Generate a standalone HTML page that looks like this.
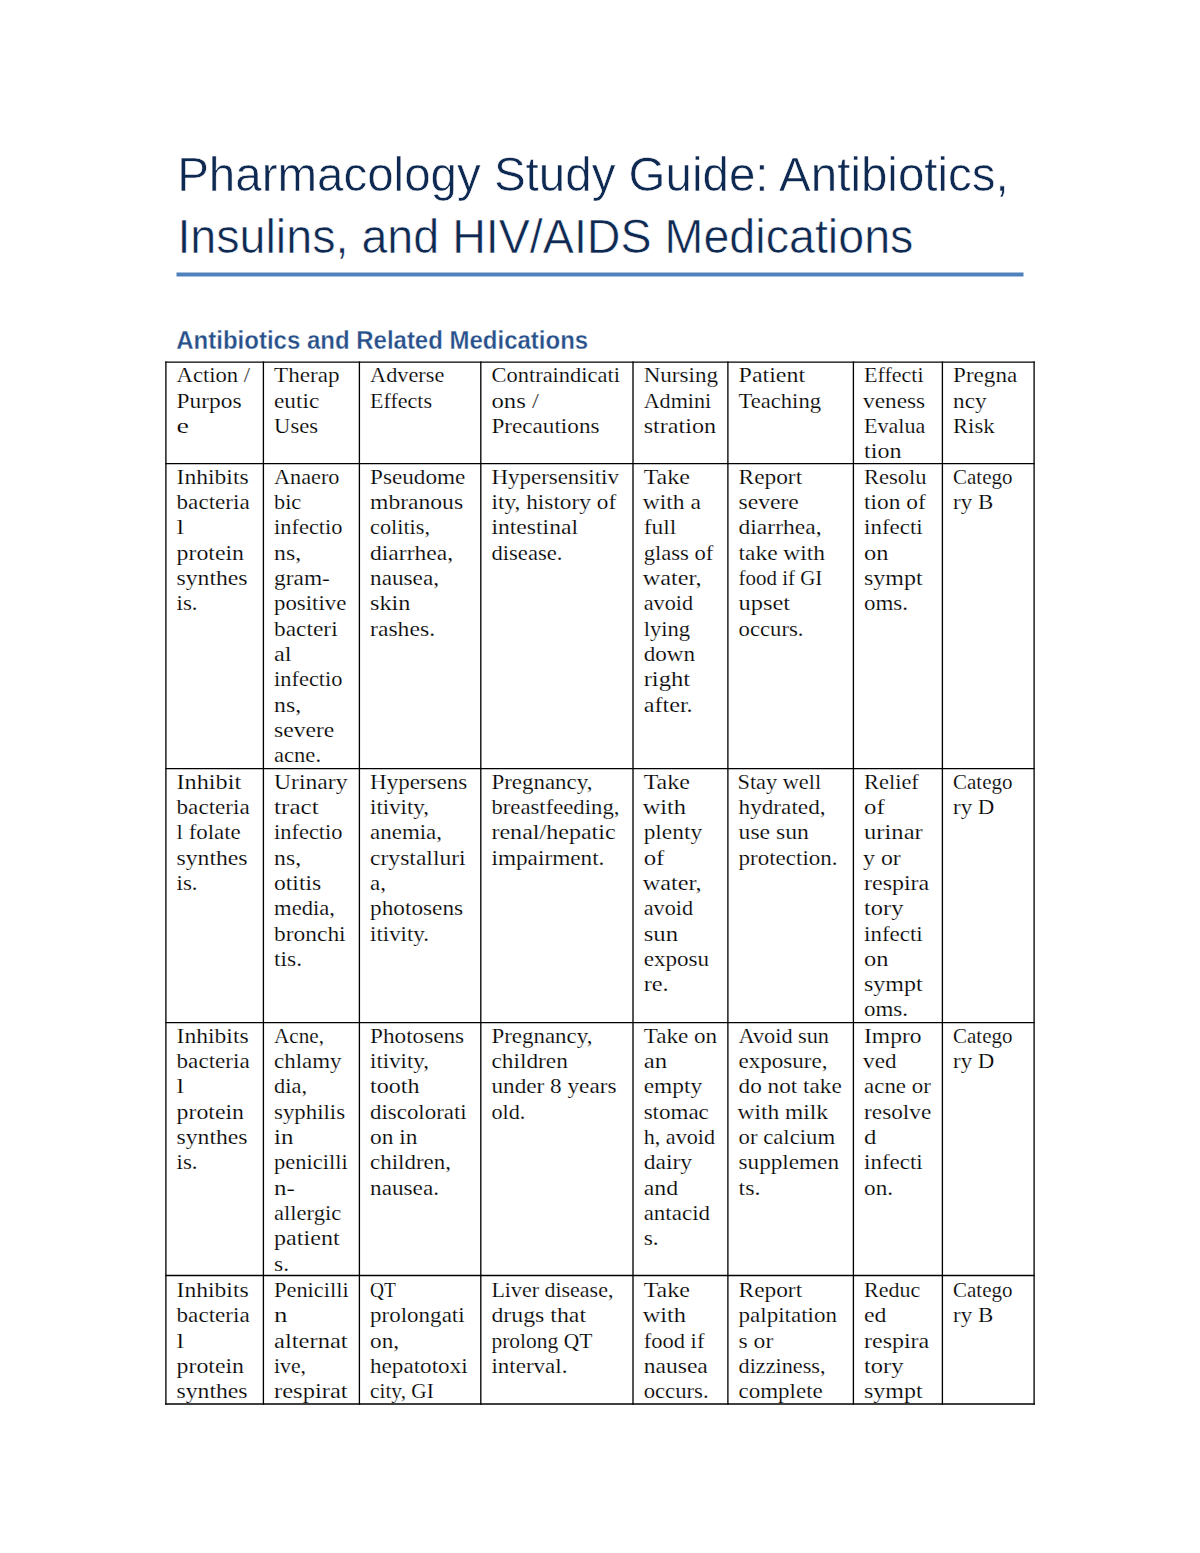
<!DOCTYPE html>
<html><head><meta charset="utf-8"><style>
html,body{margin:0;padding:0;background:#fff;width:1200px;height:1553px;overflow:hidden}
svg{display:block}
</style></head><body>
<svg width="1200" height="1553" viewBox="0 0 1200 1553">
<rect x="0" y="0" width="1200" height="1553" fill="#fff"/>
<g font-family="'Liberation Sans', sans-serif" font-size="49" fill="#0f2a52" stroke="#fff" stroke-width="0.6">
<text x="177.13" y="190.6" textLength="831.66" lengthAdjust="spacingAndGlyphs">Pharmacology Study Guide: Antibiotics,</text>
<text x="177.39" y="252.6" textLength="736.03" lengthAdjust="spacingAndGlyphs">Insulins, and HIV/AIDS Medications</text>
</g>
<rect x="176.5" y="272.5" width="847" height="4" fill="#4F81BD"/>
<g font-family="'Liberation Sans', sans-serif" font-weight="bold" font-size="25" fill="#28508a" stroke="#fff" stroke-width="0.3">
<text x="176.30" y="348.8" textLength="411.87" lengthAdjust="spacingAndGlyphs">Antibiotics and Related Medications</text>
</g>
<g stroke="#000" stroke-width="1.33" fill="none">
<line x1="165.9" y1="361.5" x2="165.9" y2="1404.65"/>
<line x1="263.4" y1="361.5" x2="263.4" y2="1404.65"/>
<line x1="359.4" y1="361.5" x2="359.4" y2="1404.65"/>
<line x1="480.8" y1="361.5" x2="480.8" y2="1404.65"/>
<line x1="633.0" y1="361.5" x2="633.0" y2="1404.65"/>
<line x1="727.9" y1="361.5" x2="727.9" y2="1404.65"/>
<line x1="853.4" y1="361.5" x2="853.4" y2="1404.65"/>
<line x1="942.4" y1="361.5" x2="942.4" y2="1404.65"/>
<line x1="1034.1" y1="361.5" x2="1034.1" y2="1404.65"/>
<line x1="165.25" y1="362.15" x2="1034.75" y2="362.15"/>
<line x1="165.25" y1="463.7" x2="1034.75" y2="463.7"/>
<line x1="165.25" y1="768.6" x2="1034.75" y2="768.6"/>
<line x1="165.25" y1="1022.7" x2="1034.75" y2="1022.7"/>
<line x1="165.25" y1="1275.5" x2="1034.75" y2="1275.5"/>
<line x1="165.25" y1="1404.0" x2="1034.75" y2="1404.0"/>
</g>
<g font-family="'Liberation Serif', serif" font-size="21.9" fill="#000" stroke="#fff" stroke-width="0.2">
<text x="176.55" y="382.25" textLength="73.55" lengthAdjust="spacingAndGlyphs">Action /</text>
<text x="176.55" y="407.56" textLength="65.06" lengthAdjust="spacingAndGlyphs">Purpos</text>
<text x="176.55" y="432.87" textLength="12.42" lengthAdjust="spacingAndGlyphs">e</text>
<text x="274.05" y="382.25" textLength="65.44" lengthAdjust="spacingAndGlyphs">Therap</text>
<text x="274.05" y="407.56" textLength="45.20" lengthAdjust="spacingAndGlyphs">eutic</text>
<text x="274.05" y="432.87" textLength="44.04" lengthAdjust="spacingAndGlyphs">Uses</text>
<text x="370.05" y="382.25" textLength="74.23" lengthAdjust="spacingAndGlyphs">Adverse</text>
<text x="370.05" y="407.56" textLength="62.02" lengthAdjust="spacingAndGlyphs">Effects</text>
<text x="491.45" y="382.25" textLength="128.58" lengthAdjust="spacingAndGlyphs">Contraindicati</text>
<text x="491.45" y="407.56" textLength="47.46" lengthAdjust="spacingAndGlyphs">ons /</text>
<text x="491.45" y="432.87" textLength="108.05" lengthAdjust="spacingAndGlyphs">Precautions</text>
<text x="643.65" y="382.25" textLength="74.44" lengthAdjust="spacingAndGlyphs">Nursing</text>
<text x="643.65" y="407.56" textLength="67.58" lengthAdjust="spacingAndGlyphs">Admini</text>
<text x="643.65" y="432.87" textLength="72.44" lengthAdjust="spacingAndGlyphs">stration</text>
<text x="738.55" y="382.25" textLength="66.59" lengthAdjust="spacingAndGlyphs">Patient</text>
<text x="738.55" y="407.56" textLength="82.44" lengthAdjust="spacingAndGlyphs">Teaching</text>
<text x="864.05" y="382.25" textLength="59.58" lengthAdjust="spacingAndGlyphs">Effecti</text>
<text x="863.05" y="407.56" textLength="62.05" lengthAdjust="spacingAndGlyphs">veness</text>
<text x="864.05" y="432.87" textLength="61.21" lengthAdjust="spacingAndGlyphs">Evalua</text>
<text x="864.05" y="458.18" textLength="37.44" lengthAdjust="spacingAndGlyphs">tion</text>
<text x="953.05" y="382.25" textLength="64.20" lengthAdjust="spacingAndGlyphs">Pregna</text>
<text x="953.05" y="407.56" textLength="33.44" lengthAdjust="spacingAndGlyphs">ncy</text>
<text x="953.05" y="432.87" textLength="41.44" lengthAdjust="spacingAndGlyphs">Risk</text>
<text x="176.55" y="483.80" textLength="72.06" lengthAdjust="spacingAndGlyphs">Inhibits</text>
<text x="176.55" y="509.11" textLength="73.20" lengthAdjust="spacingAndGlyphs">bacteria</text>
<text x="176.55" y="534.42" textLength="7.60" lengthAdjust="spacingAndGlyphs">l</text>
<text x="176.55" y="559.73" textLength="67.44" lengthAdjust="spacingAndGlyphs">protein</text>
<text x="176.55" y="585.04" textLength="71.06" lengthAdjust="spacingAndGlyphs">synthes</text>
<text x="176.55" y="610.35" textLength="20.99" lengthAdjust="spacingAndGlyphs">is.</text>
<text x="274.05" y="483.80" textLength="65.44" lengthAdjust="spacingAndGlyphs">Anaero</text>
<text x="274.05" y="509.11" textLength="27.21" lengthAdjust="spacingAndGlyphs">bic</text>
<text x="274.05" y="534.42" textLength="68.44" lengthAdjust="spacingAndGlyphs">infectio</text>
<text x="274.05" y="559.73" textLength="27.01" lengthAdjust="spacingAndGlyphs">ns,</text>
<text x="274.05" y="585.04" textLength="55.81" lengthAdjust="spacingAndGlyphs">gram-</text>
<text x="274.05" y="610.35" textLength="72.25" lengthAdjust="spacingAndGlyphs">positive</text>
<text x="274.05" y="635.66" textLength="63.59" lengthAdjust="spacingAndGlyphs">bacteri</text>
<text x="274.05" y="660.97" textLength="17.59" lengthAdjust="spacingAndGlyphs">al</text>
<text x="274.05" y="686.28" textLength="68.44" lengthAdjust="spacingAndGlyphs">infectio</text>
<text x="274.05" y="711.59" textLength="27.01" lengthAdjust="spacingAndGlyphs">ns,</text>
<text x="274.05" y="736.90" textLength="60.27" lengthAdjust="spacingAndGlyphs">severe</text>
<text x="274.05" y="762.21" textLength="46.99" lengthAdjust="spacingAndGlyphs">acne.</text>
<text x="370.05" y="483.80" textLength="95.26" lengthAdjust="spacingAndGlyphs">Pseudome</text>
<text x="370.05" y="509.11" textLength="93.06" lengthAdjust="spacingAndGlyphs">mbranous</text>
<text x="370.05" y="534.42" textLength="59.98" lengthAdjust="spacingAndGlyphs">colitis,</text>
<text x="370.05" y="559.73" textLength="83.01" lengthAdjust="spacingAndGlyphs">diarrhea,</text>
<text x="370.05" y="585.04" textLength="69.00" lengthAdjust="spacingAndGlyphs">nausea,</text>
<text x="370.05" y="610.35" textLength="40.44" lengthAdjust="spacingAndGlyphs">skin</text>
<text x="370.05" y="635.66" textLength="65.01" lengthAdjust="spacingAndGlyphs">rashes.</text>
<text x="491.45" y="483.80" textLength="127.44" lengthAdjust="spacingAndGlyphs">Hypersensitiv</text>
<text x="491.45" y="509.11" textLength="124.74" lengthAdjust="spacingAndGlyphs">ity, history of</text>
<text x="491.45" y="534.42" textLength="86.59" lengthAdjust="spacingAndGlyphs">intestinal</text>
<text x="491.45" y="559.73" textLength="70.99" lengthAdjust="spacingAndGlyphs">disease.</text>
<text x="643.65" y="483.80" textLength="46.29" lengthAdjust="spacingAndGlyphs">Take</text>
<text x="642.65" y="509.11" textLength="58.19" lengthAdjust="spacingAndGlyphs">with a</text>
<text x="643.65" y="534.42" textLength="32.59" lengthAdjust="spacingAndGlyphs">full</text>
<text x="643.65" y="559.73" textLength="69.77" lengthAdjust="spacingAndGlyphs">glass of</text>
<text x="642.65" y="585.04" textLength="59.02" lengthAdjust="spacingAndGlyphs">water,</text>
<text x="643.65" y="610.35" textLength="49.44" lengthAdjust="spacingAndGlyphs">avoid</text>
<text x="643.65" y="635.66" textLength="46.44" lengthAdjust="spacingAndGlyphs">lying</text>
<text x="643.65" y="660.97" textLength="51.44" lengthAdjust="spacingAndGlyphs">down</text>
<text x="643.65" y="686.28" textLength="46.59" lengthAdjust="spacingAndGlyphs">right</text>
<text x="643.65" y="711.59" textLength="49.02" lengthAdjust="spacingAndGlyphs">after.</text>
<text x="738.55" y="483.80" textLength="63.59" lengthAdjust="spacingAndGlyphs">Report</text>
<text x="738.55" y="509.11" textLength="60.27" lengthAdjust="spacingAndGlyphs">severe</text>
<text x="738.55" y="534.42" textLength="83.01" lengthAdjust="spacingAndGlyphs">diarrhea,</text>
<text x="738.55" y="559.73" textLength="86.44" lengthAdjust="spacingAndGlyphs">take with</text>
<text x="738.55" y="585.04" textLength="83.78" lengthAdjust="spacingAndGlyphs">food if GI</text>
<text x="738.55" y="610.35" textLength="51.59" lengthAdjust="spacingAndGlyphs">upset</text>
<text x="738.55" y="635.66" textLength="64.99" lengthAdjust="spacingAndGlyphs">occurs.</text>
<text x="864.05" y="483.80" textLength="62.44" lengthAdjust="spacingAndGlyphs">Resolu</text>
<text x="864.05" y="509.11" textLength="61.74" lengthAdjust="spacingAndGlyphs">tion of</text>
<text x="864.05" y="534.42" textLength="58.59" lengthAdjust="spacingAndGlyphs">infecti</text>
<text x="864.05" y="559.73" textLength="24.44" lengthAdjust="spacingAndGlyphs">on</text>
<text x="864.05" y="585.04" textLength="58.59" lengthAdjust="spacingAndGlyphs">sympt</text>
<text x="864.05" y="610.35" textLength="44.00" lengthAdjust="spacingAndGlyphs">oms.</text>
<text x="953.05" y="483.80" textLength="59.45" lengthAdjust="spacingAndGlyphs">Catego</text>
<text x="953.05" y="509.11" textLength="40.13" lengthAdjust="spacingAndGlyphs">ry B</text>
<text x="176.55" y="788.70" textLength="64.59" lengthAdjust="spacingAndGlyphs">Inhibit</text>
<text x="176.55" y="814.01" textLength="73.20" lengthAdjust="spacingAndGlyphs">bacteria</text>
<text x="176.55" y="839.32" textLength="64.25" lengthAdjust="spacingAndGlyphs">l folate</text>
<text x="176.55" y="864.63" textLength="71.06" lengthAdjust="spacingAndGlyphs">synthes</text>
<text x="176.55" y="889.94" textLength="20.99" lengthAdjust="spacingAndGlyphs">is.</text>
<text x="274.05" y="788.70" textLength="73.44" lengthAdjust="spacingAndGlyphs">Urinary</text>
<text x="274.05" y="814.01" textLength="44.59" lengthAdjust="spacingAndGlyphs">tract</text>
<text x="274.05" y="839.32" textLength="68.44" lengthAdjust="spacingAndGlyphs">infectio</text>
<text x="274.05" y="864.63" textLength="27.01" lengthAdjust="spacingAndGlyphs">ns,</text>
<text x="274.05" y="889.94" textLength="47.06" lengthAdjust="spacingAndGlyphs">otitis</text>
<text x="274.05" y="915.25" textLength="60.99" lengthAdjust="spacingAndGlyphs">media,</text>
<text x="274.05" y="940.56" textLength="71.59" lengthAdjust="spacingAndGlyphs">bronchi</text>
<text x="274.05" y="965.87" textLength="28.01" lengthAdjust="spacingAndGlyphs">tis.</text>
<text x="370.05" y="788.70" textLength="97.05" lengthAdjust="spacingAndGlyphs">Hypersens</text>
<text x="370.05" y="814.01" textLength="58.99" lengthAdjust="spacingAndGlyphs">itivity,</text>
<text x="370.05" y="839.32" textLength="72.00" lengthAdjust="spacingAndGlyphs">anemia,</text>
<text x="370.05" y="864.63" textLength="95.59" lengthAdjust="spacingAndGlyphs">crystalluri</text>
<text x="370.05" y="889.94" textLength="16.00" lengthAdjust="spacingAndGlyphs">a,</text>
<text x="370.05" y="915.25" textLength="93.05" lengthAdjust="spacingAndGlyphs">photosens</text>
<text x="370.05" y="940.56" textLength="58.99" lengthAdjust="spacingAndGlyphs">itivity.</text>
<text x="491.45" y="788.70" textLength="100.99" lengthAdjust="spacingAndGlyphs">Pregnancy,</text>
<text x="491.45" y="814.01" textLength="127.99" lengthAdjust="spacingAndGlyphs">breastfeeding,</text>
<text x="491.45" y="839.32" textLength="124.19" lengthAdjust="spacingAndGlyphs">renal/hepatic</text>
<text x="491.45" y="864.63" textLength="113.00" lengthAdjust="spacingAndGlyphs">impairment.</text>
<text x="643.65" y="788.70" textLength="46.29" lengthAdjust="spacingAndGlyphs">Take</text>
<text x="642.65" y="814.01" textLength="43.44" lengthAdjust="spacingAndGlyphs">with</text>
<text x="643.65" y="839.32" textLength="58.44" lengthAdjust="spacingAndGlyphs">plenty</text>
<text x="643.65" y="864.63" textLength="20.69" lengthAdjust="spacingAndGlyphs">of</text>
<text x="642.65" y="889.94" textLength="59.02" lengthAdjust="spacingAndGlyphs">water,</text>
<text x="643.65" y="915.25" textLength="49.44" lengthAdjust="spacingAndGlyphs">avoid</text>
<text x="643.65" y="940.56" textLength="34.44" lengthAdjust="spacingAndGlyphs">sun</text>
<text x="643.65" y="965.87" textLength="65.44" lengthAdjust="spacingAndGlyphs">exposu</text>
<text x="643.65" y="991.18" textLength="25.03" lengthAdjust="spacingAndGlyphs">re.</text>
<text x="737.53" y="788.70" textLength="83.60" lengthAdjust="spacingAndGlyphs">Stay well</text>
<text x="738.55" y="814.01" textLength="87.00" lengthAdjust="spacingAndGlyphs">hydrated,</text>
<text x="738.55" y="839.32" textLength="70.44" lengthAdjust="spacingAndGlyphs">use sun</text>
<text x="738.55" y="864.63" textLength="99.00" lengthAdjust="spacingAndGlyphs">protection.</text>
<text x="864.05" y="788.70" textLength="54.77" lengthAdjust="spacingAndGlyphs">Relief</text>
<text x="864.05" y="814.01" textLength="20.69" lengthAdjust="spacingAndGlyphs">of</text>
<text x="864.05" y="839.32" textLength="58.70" lengthAdjust="spacingAndGlyphs">urinar</text>
<text x="863.05" y="864.63" textLength="37.73" lengthAdjust="spacingAndGlyphs">y or</text>
<text x="864.05" y="889.94" textLength="65.19" lengthAdjust="spacingAndGlyphs">respira</text>
<text x="864.05" y="915.25" textLength="39.44" lengthAdjust="spacingAndGlyphs">tory</text>
<text x="864.05" y="940.56" textLength="58.59" lengthAdjust="spacingAndGlyphs">infecti</text>
<text x="864.05" y="965.87" textLength="24.44" lengthAdjust="spacingAndGlyphs">on</text>
<text x="864.05" y="991.18" textLength="58.59" lengthAdjust="spacingAndGlyphs">sympt</text>
<text x="864.05" y="1016.49" textLength="44.00" lengthAdjust="spacingAndGlyphs">oms.</text>
<text x="953.05" y="788.70" textLength="59.45" lengthAdjust="spacingAndGlyphs">Catego</text>
<text x="953.05" y="814.01" textLength="41.35" lengthAdjust="spacingAndGlyphs">ry D</text>
<text x="176.55" y="1042.80" textLength="72.06" lengthAdjust="spacingAndGlyphs">Inhibits</text>
<text x="176.55" y="1068.11" textLength="73.20" lengthAdjust="spacingAndGlyphs">bacteria</text>
<text x="176.55" y="1093.42" textLength="7.60" lengthAdjust="spacingAndGlyphs">l</text>
<text x="176.55" y="1118.73" textLength="67.44" lengthAdjust="spacingAndGlyphs">protein</text>
<text x="176.55" y="1144.04" textLength="71.06" lengthAdjust="spacingAndGlyphs">synthes</text>
<text x="176.55" y="1169.35" textLength="20.99" lengthAdjust="spacingAndGlyphs">is.</text>
<text x="274.05" y="1042.80" textLength="49.96" lengthAdjust="spacingAndGlyphs">Acne,</text>
<text x="274.05" y="1068.11" textLength="67.44" lengthAdjust="spacingAndGlyphs">chlamy</text>
<text x="274.05" y="1093.42" textLength="32.98" lengthAdjust="spacingAndGlyphs">dia,</text>
<text x="274.05" y="1118.73" textLength="71.04" lengthAdjust="spacingAndGlyphs">syphilis</text>
<text x="274.05" y="1144.04" textLength="19.44" lengthAdjust="spacingAndGlyphs">in</text>
<text x="274.05" y="1169.35" textLength="73.58" lengthAdjust="spacingAndGlyphs">penicilli</text>
<text x="274.05" y="1194.66" textLength="20.83" lengthAdjust="spacingAndGlyphs">n-</text>
<text x="274.05" y="1219.97" textLength="67.21" lengthAdjust="spacingAndGlyphs">allergic</text>
<text x="274.05" y="1245.28" textLength="65.59" lengthAdjust="spacingAndGlyphs">patient</text>
<text x="274.05" y="1270.59" textLength="15.01" lengthAdjust="spacingAndGlyphs">s.</text>
<text x="370.05" y="1042.80" textLength="94.05" lengthAdjust="spacingAndGlyphs">Photosens</text>
<text x="370.05" y="1068.11" textLength="58.99" lengthAdjust="spacingAndGlyphs">itivity,</text>
<text x="370.05" y="1093.42" textLength="49.44" lengthAdjust="spacingAndGlyphs">tooth</text>
<text x="370.05" y="1118.73" textLength="96.59" lengthAdjust="spacingAndGlyphs">discolorati</text>
<text x="370.05" y="1144.04" textLength="47.44" lengthAdjust="spacingAndGlyphs">on in</text>
<text x="370.05" y="1169.35" textLength="81.00" lengthAdjust="spacingAndGlyphs">children,</text>
<text x="370.05" y="1194.66" textLength="69.00" lengthAdjust="spacingAndGlyphs">nausea.</text>
<text x="491.45" y="1042.80" textLength="100.99" lengthAdjust="spacingAndGlyphs">Pregnancy,</text>
<text x="491.45" y="1068.11" textLength="76.44" lengthAdjust="spacingAndGlyphs">children</text>
<text x="491.45" y="1093.42" textLength="125.05" lengthAdjust="spacingAndGlyphs">under 8 years</text>
<text x="491.45" y="1118.73" textLength="33.98" lengthAdjust="spacingAndGlyphs">old.</text>
<text x="643.65" y="1042.80" textLength="73.44" lengthAdjust="spacingAndGlyphs">Take on</text>
<text x="643.65" y="1068.11" textLength="23.44" lengthAdjust="spacingAndGlyphs">an</text>
<text x="643.65" y="1093.42" textLength="58.44" lengthAdjust="spacingAndGlyphs">empty</text>
<text x="643.65" y="1118.73" textLength="65.20" lengthAdjust="spacingAndGlyphs">stomac</text>
<text x="643.65" y="1144.04" textLength="71.44" lengthAdjust="spacingAndGlyphs">h, avoid</text>
<text x="643.65" y="1169.35" textLength="48.44" lengthAdjust="spacingAndGlyphs">dairy</text>
<text x="643.65" y="1194.66" textLength="34.44" lengthAdjust="spacingAndGlyphs">and</text>
<text x="643.65" y="1219.97" textLength="66.44" lengthAdjust="spacingAndGlyphs">antacid</text>
<text x="643.65" y="1245.28" textLength="15.01" lengthAdjust="spacingAndGlyphs">s.</text>
<text x="738.55" y="1042.80" textLength="90.44" lengthAdjust="spacingAndGlyphs">Avoid sun</text>
<text x="738.55" y="1068.11" textLength="89.00" lengthAdjust="spacingAndGlyphs">exposure,</text>
<text x="738.55" y="1093.42" textLength="103.26" lengthAdjust="spacingAndGlyphs">do not take</text>
<text x="737.55" y="1118.73" textLength="90.44" lengthAdjust="spacingAndGlyphs">with milk</text>
<text x="738.55" y="1144.04" textLength="96.53" lengthAdjust="spacingAndGlyphs">or calcium</text>
<text x="738.55" y="1169.35" textLength="100.44" lengthAdjust="spacingAndGlyphs">supplemen</text>
<text x="738.55" y="1194.66" textLength="22.02" lengthAdjust="spacingAndGlyphs">ts.</text>
<text x="864.05" y="1042.80" textLength="57.44" lengthAdjust="spacingAndGlyphs">Impro</text>
<text x="863.05" y="1068.11" textLength="33.44" lengthAdjust="spacingAndGlyphs">ved</text>
<text x="864.05" y="1093.42" textLength="66.76" lengthAdjust="spacingAndGlyphs">acne or</text>
<text x="864.05" y="1118.73" textLength="67.26" lengthAdjust="spacingAndGlyphs">resolve</text>
<text x="864.05" y="1144.04" textLength="12.44" lengthAdjust="spacingAndGlyphs">d</text>
<text x="864.05" y="1169.35" textLength="58.59" lengthAdjust="spacingAndGlyphs">infecti</text>
<text x="864.05" y="1194.66" textLength="29.00" lengthAdjust="spacingAndGlyphs">on.</text>
<text x="953.05" y="1042.80" textLength="59.45" lengthAdjust="spacingAndGlyphs">Catego</text>
<text x="953.05" y="1068.11" textLength="41.35" lengthAdjust="spacingAndGlyphs">ry D</text>
<text x="176.55" y="1297.10" textLength="72.06" lengthAdjust="spacingAndGlyphs">Inhibits</text>
<text x="176.55" y="1322.41" textLength="73.20" lengthAdjust="spacingAndGlyphs">bacteria</text>
<text x="176.55" y="1347.72" textLength="7.60" lengthAdjust="spacingAndGlyphs">l</text>
<text x="176.55" y="1373.03" textLength="67.44" lengthAdjust="spacingAndGlyphs">protein</text>
<text x="176.55" y="1398.34" textLength="71.06" lengthAdjust="spacingAndGlyphs">synthes</text>
<text x="274.05" y="1297.10" textLength="74.58" lengthAdjust="spacingAndGlyphs">Penicilli</text>
<text x="274.05" y="1322.41" textLength="13.43" lengthAdjust="spacingAndGlyphs">n</text>
<text x="274.05" y="1347.72" textLength="73.59" lengthAdjust="spacingAndGlyphs">alternat</text>
<text x="274.05" y="1373.03" textLength="31.97" lengthAdjust="spacingAndGlyphs">ive,</text>
<text x="274.05" y="1398.34" textLength="73.59" lengthAdjust="spacingAndGlyphs">respirat</text>
<text x="370.05" y="1297.10" textLength="25.94" lengthAdjust="spacingAndGlyphs">QT</text>
<text x="370.05" y="1322.41" textLength="94.59" lengthAdjust="spacingAndGlyphs">prolongati</text>
<text x="370.05" y="1347.72" textLength="29.00" lengthAdjust="spacingAndGlyphs">on,</text>
<text x="370.05" y="1373.03" textLength="97.59" lengthAdjust="spacingAndGlyphs">hepatotoxi</text>
<text x="370.05" y="1398.34" textLength="63.78" lengthAdjust="spacingAndGlyphs">city, GI</text>
<text x="491.45" y="1297.10" textLength="121.97" lengthAdjust="spacingAndGlyphs">Liver disease,</text>
<text x="491.45" y="1322.41" textLength="94.59" lengthAdjust="spacingAndGlyphs">drugs that</text>
<text x="491.45" y="1347.72" textLength="100.88" lengthAdjust="spacingAndGlyphs">prolong QT</text>
<text x="491.45" y="1373.03" textLength="76.00" lengthAdjust="spacingAndGlyphs">interval.</text>
<text x="643.65" y="1297.10" textLength="46.29" lengthAdjust="spacingAndGlyphs">Take</text>
<text x="642.65" y="1322.41" textLength="43.44" lengthAdjust="spacingAndGlyphs">with</text>
<text x="643.65" y="1347.72" textLength="60.77" lengthAdjust="spacingAndGlyphs">food if</text>
<text x="643.65" y="1373.03" textLength="64.19" lengthAdjust="spacingAndGlyphs">nausea</text>
<text x="643.65" y="1398.34" textLength="64.99" lengthAdjust="spacingAndGlyphs">occurs.</text>
<text x="738.55" y="1297.10" textLength="63.59" lengthAdjust="spacingAndGlyphs">Report</text>
<text x="738.55" y="1322.41" textLength="98.44" lengthAdjust="spacingAndGlyphs">palpitation</text>
<text x="738.55" y="1347.72" textLength="34.73" lengthAdjust="spacingAndGlyphs">s or</text>
<text x="738.55" y="1373.03" textLength="86.98" lengthAdjust="spacingAndGlyphs">dizziness,</text>
<text x="738.55" y="1398.34" textLength="84.25" lengthAdjust="spacingAndGlyphs">complete</text>
<text x="864.05" y="1297.10" textLength="56.21" lengthAdjust="spacingAndGlyphs">Reduc</text>
<text x="864.05" y="1322.41" textLength="22.44" lengthAdjust="spacingAndGlyphs">ed</text>
<text x="864.05" y="1347.72" textLength="65.19" lengthAdjust="spacingAndGlyphs">respira</text>
<text x="864.05" y="1373.03" textLength="39.44" lengthAdjust="spacingAndGlyphs">tory</text>
<text x="864.05" y="1398.34" textLength="58.59" lengthAdjust="spacingAndGlyphs">sympt</text>
<text x="953.05" y="1297.10" textLength="59.45" lengthAdjust="spacingAndGlyphs">Catego</text>
<text x="953.05" y="1322.41" textLength="40.13" lengthAdjust="spacingAndGlyphs">ry B</text>
</g>
</svg>
</body></html>
